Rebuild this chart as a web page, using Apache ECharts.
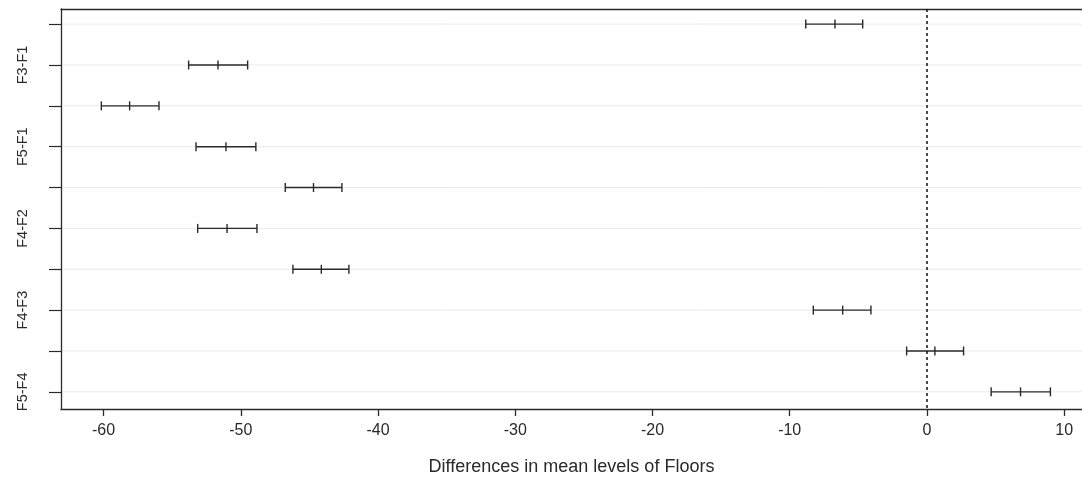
<!DOCTYPE html>
<html>
<head>
<meta charset="utf-8">
<script src="https://cdn.jsdelivr.net/npm/echarts@6/dist/echarts.min.js"></script>
<style>
  html, body { margin: 0; padding: 0; background: #ffffff; }
  #chart { width: 1082px; height: 477px; }
</style>
</head>
<body>
<div id="chart"></div>
<script>
// Tukey HSD: 95% family-wise confidence intervals of Floors differences
const comparisons = ['F2-F1', 'F3-F1', 'F4-F1', 'F5-F1', 'F3-F2', 'F4-F2', 'F5-F2', 'F4-F3', 'F5-F3', 'F5-F4'];
const diff  = [-6.70, -51.66, -58.10, -51.08, -44.70, -51.00, -44.13, -6.14, 0.58, 6.82];
const lower = [-8.83, -53.80, -60.16, -53.26, -46.76, -53.14, -46.20, -8.28, -1.48, 4.68];
const upper = [-4.68, -49.50, -55.96, -48.90, -42.63, -48.82, -42.12, -4.08, 2.67, 9.00];
const xTicks = [-60, -50, -40, -30, -20, -10, 0, 10];

const rows = comparisons.map((c, i) => [i + 1, lower[i], diff[i], upper[i]]);
const rowIndex = comparisons.map((c, i) => i + 1);
const labelRows = rowIndex.filter(r => r % 2 === 0);

const ink = '#2a2a2a';
const font = 'Liberation Sans, Arial, sans-serif';

const chart = echarts.init(document.getElementById('chart'));

chart.setOption({
  backgroundColor: '#ffffff',
  animation: false,
  grid: { left: 61, right: 0, top: 9, bottom: 68, outerBoundsMode: 'none', containLabel: false },
  xAxis: [{
    type: 'value',
    min: -63.1,
    max: 11.3,
    name: 'Differences in mean levels of Floors',
    nameLocation: 'middle',
    nameGap: 49,
    nameTextStyle: { fontFamily: font, fontSize: 18, color: ink },
    axisLine: { show: true, onZero: false, lineStyle: { color: ink, width: 1.3 } },
    axisTick: { show: true, customValues: xTicks, length: 7, lineStyle: { color: ink, width: 1.3 } },
    axisLabel: { customValues: xTicks, margin: 14, fontFamily: font, fontSize: 16, color: ink },
    splitLine: { show: false }
  }, {
    type: 'value',
    position: 'top',
    min: -63.1,
    max: 11.3,
    axisLine: { show: true, onZero: false, lineStyle: { color: ink, width: 1.3 } },
    axisTick: { show: false },
    axisLabel: { show: false },
    splitLine: { show: false }
  }],
  yAxis: {
    type: 'value',
    inverse: true,
    min: 0.63,
    max: 10.42,
    axisLine: { show: true, onZero: false, lineStyle: { color: ink, width: 1.3 } },
    axisTick: { show: true, customValues: rowIndex, length: 12, lineStyle: { color: ink, width: 1.2 } },
    axisLabel: {
      customValues: labelRows,
      rotate: 90,
      margin: 31,
      fontFamily: font,
      fontSize: 14.5,
      color: ink,
      formatter: v => comparisons[Math.round(v) - 1]
    },
    splitLine: { show: false }
  },
  series: [{
    // faint reference line across each comparison row
    type: 'custom',
    silent: true,
    data: rows,
    encode: { x: 1, y: 0 },
    renderItem: (params, api) => {
      const y = api.coord([0, api.value(0)])[1];
      const cs = params.coordSys;
      return {
        type: 'line',
        shape: { x1: cs.x + 1, y1: y, x2: cs.x + cs.width, y2: y },
        style: { stroke: '#dcdcdc', lineWidth: 0.6 }
      };
    },
    z: 1
  }, {
    // interval bars with end caps and a mark at the estimate
    type: 'custom',
    data: rows,
    encode: { x: [1, 2, 3], y: 0 },
    renderItem: (params, api) => {
      const row = api.value(0);
      const pl = api.coord([api.value(1), row]);
      const pm = api.coord([api.value(2), row]);
      const pu = api.coord([api.value(3), row]);
      const h = 4.5;
      const st = { stroke: ink, lineWidth: 1.4 };
      return {
        type: 'group',
        children: [
          { type: 'line', shape: { x1: pl[0], y1: pl[1], x2: pu[0], y2: pu[1] }, style: st },
          { type: 'line', shape: { x1: pl[0], y1: pl[1] - h, x2: pl[0], y2: pl[1] + h }, style: st },
          { type: 'line', shape: { x1: pm[0], y1: pm[1] - h, x2: pm[0], y2: pm[1] + h }, style: st },
          { type: 'line', shape: { x1: pu[0], y1: pu[1] - h, x2: pu[0], y2: pu[1] + h }, style: st }
        ]
      };
    },
    markLine: {
      silent: true,
      symbol: 'none',
      label: { show: false },
      lineStyle: { color: '#111', type: [3, 3], width: 1.5 },
      data: [{ xAxis: 0 }]
    },
    z: 3
  }]
});
</script>
</body>
</html>
